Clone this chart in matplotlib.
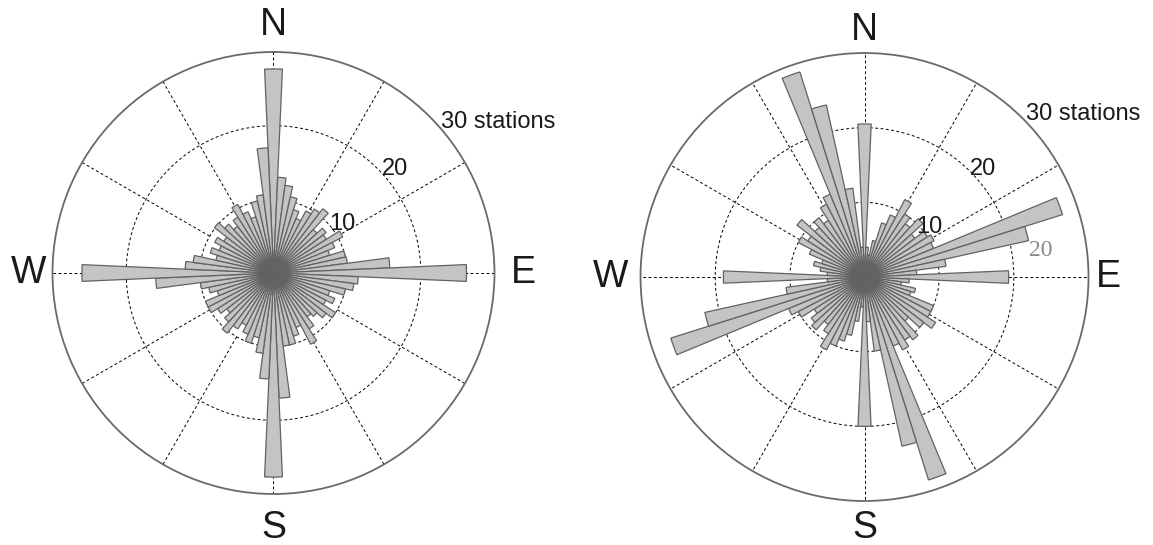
import numpy as np
import matplotlib
matplotlib.use("Agg")
import matplotlib.pyplot as plt

plt.rcParams['font.family'] = ['Liberation Sans', 'DejaVu Sans']

# bin centres (compass degrees, clockwise from north), 5 degree bins
directions = np.arange(0, 360, 5)

# number of stations per bin, left rose
left_counts = [27.7, 13, 12, 10.6, 9, 8, 9.5, 10.3, 11, 8, 9, 8.5,
               10.6, 9, 8, 10, 10.1, 15.8, 26.2, 11.5, 11, 10, 8, 9,
               8, 10, 9, 8, 7.5, 9, 10.9, 8, 9, 10, 10, 17,
               27.7, 14.4, 11, 9, 10, 9, 8, 9, 10.3, 9, 8, 9,
               10, 10, 8, 9, 10, 16, 26, 12, 11, 8, 9, 8,
               9, 8, 10.1, 9, 8, 9, 10.5, 9, 8, 10, 10.7, 17]

# number of stations per bin, right rose
right_counts = [20.5, 4, 3, 5, 7.6, 9, 11.7, 10, 9, 10.6, 8.5, 10,
                10.5, 10, 27.8, 22.5, 11, 7, 19.3, 6, 5, 7, 6.5, 10,
                10, 11.3, 10, 8, 10.6, 10, 11, 10, 28.5, 23.2, 10, 6,
                20, 4, 6, 8, 9, 10, 11, 9, 8, 9.6, 9, 8,
                10, 11, 27.2, 21.9, 10.6, 5, 18.9, 5, 6, 7, 6, 8,
                10, 9, 11.4, 9, 10, 9, 11, 12, 28.8, 23.6, 12, 4]

rings = [10, 20]
r_max = 30
spokes = np.arange(0, 360, 30)
ring_labels = ['10', '20', '30 stations']

fig = plt.figure(figsize=(11.53, 5.45), dpi=100)

# axes placed so the outer circles sit where they do in the original
ax_left = fig.add_axes([0.0455, 0.0936, 0.3834, 0.811], projection='polar')
ax_right = fig.add_axes([0.5555, 0.0807, 0.3886, 0.822], projection='polar')


def draw_rose(ax, counts, label_pos, compass_r):
    ax.set_theta_zero_location('N')
    ax.set_theta_direction(-1)
    ax.set_ylim(0, r_max)
    ax.grid(False)
    ax.set_xticks([])
    ax.set_yticks([])
    ax.spines['polar'].set_color('#6a6a6a')
    ax.spines['polar'].set_linewidth(1.3)

    t = np.linspace(0, 2 * np.pi, 400)
    for r in rings:
        ax.plot(t, np.full_like(t, r), color='black', lw=0.7,
                ls=(0, (3, 2.5)), zorder=1)
    for s in spokes:
        ax.plot([np.deg2rad(s)] * 2, [rings[0], r_max], color='black',
                lw=0.7, ls=(0, (3, 2.5)), zorder=1)

    ax.bar(np.deg2rad(directions), counts, width=np.deg2rad(5),
           color='#c4c4c4', edgecolor='#626262', linewidth=0.9, zorder=2)

    for txt, (ang, r, ha) in zip(ring_labels, label_pos):
        ax.text(np.deg2rad(ang), r, txt, fontsize=17, ha=ha, va='center',
                color='#1a1a1a', zorder=5, clip_on=False)

    for txt, ang, r in zip(['N', 'E', 'S', 'W'], [0, 90, 180, 270], compass_r):
        ax.text(np.deg2rad(ang), r, txt, fontsize=27, ha='center',
                va='center', color='#1a1a1a', clip_on=False)


draw_rose(ax_left, left_counts,
          [(54.8, 11.5, 'center'), (49.4, 21.7, 'center'), (48.0, 30.6, 'left')],
          [33.6, 33.9, 34.6, 33.3])
draw_rose(ax_right, right_counts,
          [(52.6, 11.0, 'center'), (47.7, 21.5, 'center'), (44.7, 30.7, 'left')],
          [33.1, 32.7, 33.6, 34.0])

# stray "20" label showing through beside the bars of the right rose
ax_right.text(np.deg2rad(81.5), 23.9, '20', fontsize=17, family='Liberation Serif',
              color='#8a8a8a', ha='center', va='center', zorder=3)

fig.savefig('out.png', dpi=100)
